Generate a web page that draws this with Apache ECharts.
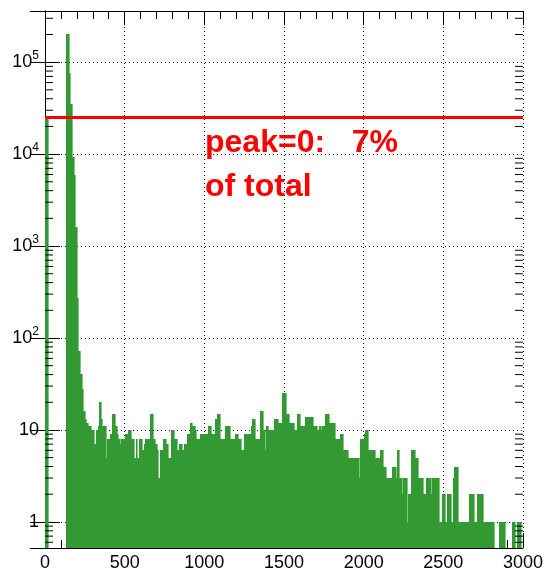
<!DOCTYPE html>
<html>
<head>
<meta charset="utf-8">
<script src="https://cdn.jsdelivr.net/npm/echarts@6/dist/echarts.min.js"></script>
<style>
html, body { margin: 0; padding: 0; background: #fff; }
#chart { width: 546px; height: 574px; }
</style>
</head>
<body>
<div id="chart"></div>
<script>
// histogram: 300 bins of width 10 from 0 to 3000, counts
const binWidth = 10
const counts = [
  25000, 25000, 0, 0, 0, 0, 0, 0, 0, 0,
  0, 0, 0, 200000, 200000, 76000, 35000, 9400, 5900, 1600,
  272, 72, 41, 28, 16, 13, 12, 11, 11, 10,
  10, 7, 10, 11, 20, 13, 11, 11, 5, 8,
  8, 9, 15, 15, 11, 9, 8, 7, 8, 8,
  9, 9, 10, 10, 8, 8, 5, 8, 5, 8,
  8, 6, 7, 8, 8, 8, 15, 15, 8, 7,
  6, 3, 6, 6, 8, 8, 7, 5, 5, 10,
  10, 8, 8, 6, 7, 7, 6, 7, 7, 9,
  9, 12, 11, 11, 10, 8, 8, 9, 9, 9,
  9, 9, 11, 11, 9, 9, 9, 13, 15, 15,
  8, 8, 8, 11, 11, 11, 8, 8, 8, 9,
  9, 8, 8, 6, 6, 9, 9, 9, 9, 11,
  13, 13, 8, 8, 8, 16, 16, 10, 6, 11,
  10, 10, 10, 10, 13, 13, 12, 12, 12, 25,
  25, 15, 15, 12, 12, 12, 10, 10, 15, 15,
  11, 11, 11, 14, 14, 14, 14, 14, 11, 11,
  11, 10, 11, 10, 11, 11, 15, 15, 12, 12,
  12, 12, 8, 8, 8, 9, 9, 6, 6, 6,
  5, 5, 5, 5, 5, 5, 5, 3, 8, 8,
  9, 10, 10, 6, 6, 6, 6, 5, 5, 5,
  6, 6, 4, 4, 3, 3, 3, 3, 4, 4,
  3, 6, 3, 3, 2, 3, 3, 1, 2, 2,
  6, 6, 5, 5, 3, 3, 3, 2, 2, 3,
  3, 3, 2, 3, 3, 3, 3, 1, 1, 2,
  2, 1, 2, 2, 2, 1, 3, 4, 4, 1,
  1, 1, 1, 1, 1, 1, 2, 2, 2, 1,
  1, 2, 2, 2, 2, 1, 1, 1, 1, 1,
  1, 1, 0, 0, 0, 1, 1, 1, 1, 0,
  0, 0, 0, 1, 1, 0, 1, 1, 1, 0
]
const peakZeroLevel = 25000
const annotation = ['peak=0:   7%', 'of total']

const xMin = 0
const xMax = 3000
const yMin = 0.52
const yMax = 3.6e5

const fontFamily = "'Liberation Sans', Arial, Helvetica, sans-serif"

const histData = []
counts.forEach((c, i) => {
  if (c > 0) histData.push([i * binWidth, c])
})

// log minor ticks at 2..9 x 10^n (ROOT style)
const minorTicks = []
for (let d = -1; d <= 5; d++) {
  for (let m = 2; m <= 9; m++) {
    const v = m * Math.pow(10, d)
    if (v > yMin && v < yMax) minorTicks.push([xMin, v])
  }
}

const chart = echarts.init(document.getElementById('chart'), null, { renderer: 'canvas' })

function logLabel (value) {
  const e = Math.round(Math.log10(value))
  if (e === 0) return '1'
  if (e === 1) return '10'
  return '10{sup|' + e + '}'
}

chart.setOption({
  animation: false,
  backgroundColor: '#fff',
  grid: { left: 45, right: 20, top: 11, bottom: 26 },
  xAxis: [{
    type: 'value',
    min: xMin,
    max: xMax,
    interval: 500,
    axisLine: { show: true, onZero: false, lineStyle: { color: '#000', width: 1 } },
    axisTick: { show: true, inside: true, length: 15, lineStyle: { color: '#000' } },
    minorTick: { show: true, splitNumber: 5, length: 8, lineStyle: { color: '#000' } },
    axisLabel: { color: '#000', fontSize: 18, fontFamily, margin: 6, formatter: (v) => String(v) },
    splitLine: { show: true, lineStyle: { color: '#000', type: [1, 3], width: 1 } }
  }, {
    type: 'value',
    position: 'top',
    min: xMin,
    max: xMax,
    interval: 500,
    axisLine: { show: true, onZero: false, lineStyle: { color: '#000', width: 1 } },
    axisTick: { show: true, inside: true, length: 14, lineStyle: { color: '#000' } },
    minorTick: { show: true, splitNumber: 5, length: 8, lineStyle: { color: '#000' } },
    axisLabel: { show: false },
    splitLine: { show: false }
  }],
  yAxis: [{
    type: 'log',
    logBase: 10,
    min: yMin,
    max: yMax,
    axisLine: { show: true, lineStyle: { color: '#000', width: 1 } },
    axisTick: { show: true, inside: true, length: 15, lineStyle: { color: '#000' } },
    axisLabel: {
      color: '#000',
      fontSize: 18,
      fontFamily,
      margin: 6,
      showMinLabel: false,
      showMaxLabel: false,
      formatter: logLabel,
      rich: {
        sup: { fontSize: 12, fontFamily, color: '#000', padding: [0, 0, 12, 0] }
      }
    },
    splitLine: { show: true, lineStyle: { color: '#000', type: [1, 3], width: 1 } }
  }, {
    type: 'log',
    logBase: 10,
    position: 'right',
    min: yMin,
    max: yMax,
    axisLine: { show: true, lineStyle: { color: '#000', width: 1 } },
    axisTick: { show: true, inside: true, length: 15, lineStyle: { color: '#000' } },
    axisLabel: { show: false },
    splitLine: { show: false }
  }],
  series: [{
    type: 'custom',
    name: 'hist',
    xAxisIndex: 0,
    yAxisIndex: 0,
    data: histData,
    encode: { x: 0, y: 1 },
    renderItem: (params, api) => {
      const x0 = api.value(0)
      const v = api.value(1)
      const p0 = api.coord([x0, v])
      const p1 = api.coord([x0 + binWidth, v])
      const cs = params.coordSys
      const bottom = cs.y + cs.height
      const left = Math.round(p0[0])
      const right = Math.max(Math.round(p1[0]), left + 1)
      const top = Math.round(p0[1])
      return {
        type: 'rect',
        shape: { x: left, y: top, width: right - left + 0.6, height: bottom - top },
        style: { fill: '#339933' }
      }
    },
    z: 2
  }, {
    type: 'custom',
    name: 'minorTicks',
    xAxisIndex: 0,
    yAxisIndex: 0,
    data: minorTicks,
    encode: { x: 0, y: 1 },
    clip: false,
    renderItem: (params, api) => {
      const y = api.coord([api.value(0), api.value(1)])[1]
      const cs = params.coordSys
      return {
        type: 'group',
        children: [
          { type: 'line', shape: { x1: cs.x, y1: y, x2: cs.x + 8, y2: y }, style: { stroke: '#000', lineWidth: 1 } },
          { type: 'line', shape: { x1: cs.x + cs.width, y1: y, x2: cs.x + cs.width - 8, y2: y }, style: { stroke: '#000', lineWidth: 1 } }
        ]
      }
    },
    z: 4
  }, {
    type: 'line',
    name: 'peak0',
    xAxisIndex: 0,
    yAxisIndex: 0,
    data: [[xMin, peakZeroLevel], [xMax, peakZeroLevel]],
    symbol: 'none',
    lineStyle: { color: '#ff0000', width: 3 },
    z: 5
  }],
  graphic: [{
    type: 'text',
    left: 205,
    top: 127,
    style: { text: annotation[0], fill: '#ff0000', font: 'bold 32px ' + fontFamily }
  }, {
    type: 'text',
    left: 205,
    top: 171,
    style: { text: annotation[1], fill: '#ff0000', font: 'bold 32px ' + fontFamily }
  }]
})
</script>
</body>
</html>
